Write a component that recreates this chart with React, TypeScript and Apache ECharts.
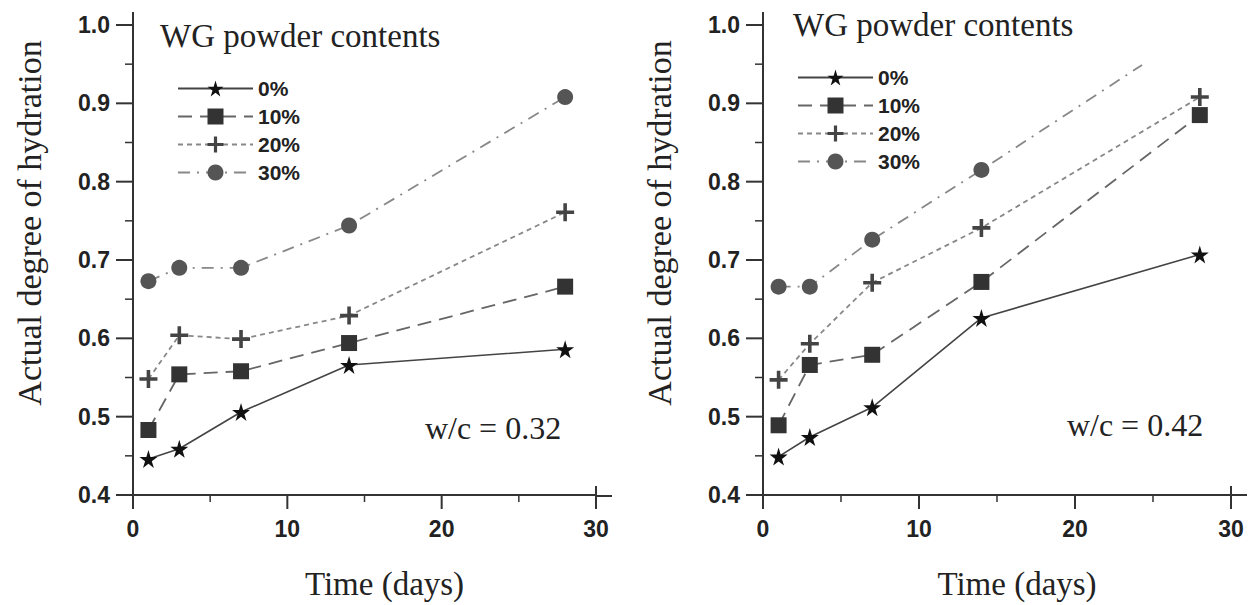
import React, { useEffect, useRef } from "react";
import * as echarts from "echarts";

const days = [1, 3, 7, 14, 28];
const seriesNames = ["0%", "10%", "20%", "30%"];

// w/c = 0.32
const left0 = [0.446, 0.459, 0.506, 0.566, 0.586];
const left10 = [0.483, 0.554, 0.558, 0.594, 0.666];
const left20 = [0.548, 0.604, 0.599, 0.629, 0.761];
const left30 = [0.673, 0.69, 0.69, 0.744, 0.908];

// w/c = 0.42
const right0 = [0.449, 0.474, 0.512, 0.626, 0.707];
const right10 = [0.489, 0.566, 0.579, 0.672, 0.885];
const right20 = [0.547, 0.593, 0.671, 0.741, 0.908];
const right30 = [0.666, 0.666, 0.726, 0.815];
// the 30% line of the right panel runs on past its last marker and stops here
const right30LineEnd = [24.3, 0.949];

const xTicks = [0, 10, 20, 30];
const xMinorTicks = [5, 15, 25];
const yTicks = [0.4, 0.5, 0.6, 0.7, 0.8, 0.9, 1.0];
const yMinorTicks = [0.45, 0.55, 0.65, 0.75, 0.85, 0.95];

const STAR =
  "path://M50,0 L61,35 L98,35 L68,57 L79,91 L50,70 L21,91 L32,57 L2,35 L39,35 Z";
const PLUS = "path://M4,0 H6 V4 H10 V6 H6 V10 H4 V6 H0 V4 H4 Z";

const styles = [
  { symbol: STAR, size: 18, color: "#111", line: "#444", type: "solid" as any, width: 1.6 },
  { symbol: "rect", size: 16, color: "#333", line: "#666", type: [14, 8], width: 1.8 },
  { symbol: PLUS, size: 18, color: "#444", line: "#888", type: [5, 4], width: 1.8 },
  { symbol: "circle", size: 16, color: "#555", line: "#888", type: [12, 7, 2, 7], width: 1.8 },
];

const serif = "Liberation Serif";
const tickFont = { fontFamily: "Liberation Sans", fontWeight: "bold" as any, fontSize: 23, color: "#222" };

function makeX(gridIndex: number) {
  return {
    type: "value",
    gridIndex,
    min: xTicks[0],
    max: xTicks[xTicks.length - 1],
    interval: 10,
    name: "Time (days)",
    nameLocation: "middle",
    nameGap: 72,
    nameTextStyle: { fontFamily: serif, fontSize: 33, color: "#222", padding: [0, 0, 0, 40] },
    axisLine: { show: true, onZero: false, lineStyle: { color: "#333", width: 2 } },
    axisTick: { show: false },
    splitLine: { show: false },
    axisLabel: { ...tickFont, margin: 22, formatter: (v: number) => String(v) },
  };
}

function makeY(gridIndex: number) {
  return {
    type: "value",
    gridIndex,
    min: yTicks[0],
    max: yTicks[yTicks.length - 1],
    interval: 0.1,
    axisLine: { show: true, onZero: false, lineStyle: { color: "#333", width: 2 } },
    axisTick: { show: false },
    splitLine: { show: false },
    axisLabel: { ...tickFont, margin: 23, formatter: (v: number) => v.toFixed(1) },
  };
}

function mkSeries(name: string, idx: number, gridIndex: number, vals: number[], extra?: number[]) {
  const s = styles[idx];
  const data: any[] = vals.map((v, i) => [days[i], v]);
  if (extra) data.push({ value: extra, symbol: "none" });
  return {
    type: "line",
    name,
    xAxisIndex: gridIndex,
    yAxisIndex: gridIndex,
    data,
    symbol: s.symbol,
    symbolSize: s.size,
    showAllSymbol: true,
    itemStyle: { color: s.color, opacity: 1 },
    lineStyle: { color: s.line, type: s.type, width: s.width },
    z: 2 + idx,
  };
}

export default function App() {
  const ref = useRef<HTMLDivElement>(null);
  useEffect(() => {
    if (!ref.current) return;
    const chart = echarts.init(ref.current, undefined, { renderer: "svg" });
    const legendBase = {
      orient: "vertical",
      data: seriesNames,
      itemWidth: 75,
      itemHeight: 20,
      itemGap: 7,
      selectedMode: false,
      textStyle: { fontFamily: "Liberation Sans", fontWeight: "bold", fontSize: 21, color: "#222" },
    };
    const axisExt = { stroke: "#333", lineWidth: 2 };
    const staticGraphics: any[] = [
      { type: "line", shape: { x1: 596, y1: 496, x2: 612, y2: 496 }, style: axisExt },
      { type: "line", shape: { x1: 133, y1: 25, x2: 133, y2: 12 }, style: axisExt },
      { type: "line", shape: { x1: 1231, y1: 495, x2: 1247, y2: 495 }, style: axisExt },
      { type: "line", shape: { x1: 763, y1: 25, x2: 763, y2: 12 }, style: axisExt },
      { type: "text", left: 160, top: 19, style: { text: "WG powder contents", fontFamily: serif, fontSize: 33, fill: "#222" } },
      { type: "text", left: 793, top: 8, style: { text: "WG powder contents", fontFamily: serif, fontSize: 33, fill: "#222" } },
      { type: "text", x: 493, y: 428, style: { text: "w/c = 0.32", fontFamily: serif, fontSize: 32, fill: "#222", align: "center", verticalAlign: "middle" } },
      { type: "text", x: 1135, y: 425, style: { text: "w/c = 0.42", fontFamily: serif, fontSize: 32, fill: "#222", align: "center", verticalAlign: "middle" } },
      { type: "text", x: 29, y: 223, rotation: Math.PI / 2, style: { text: "Actual degree of hydration", fontFamily: serif, fontSize: 34, fill: "#222", align: "center", verticalAlign: "middle" } },
      { type: "text", x: 659, y: 223, rotation: Math.PI / 2, style: { text: "Actual degree of hydration", fontFamily: serif, fontSize: 34, fill: "#222", align: "center", verticalAlign: "middle" } },
    ];
    chart.setOption({
      animation: false,
      backgroundColor: "#fff",
      grid: [
        { left: 133, top: 25, width: 463, height: 471 },
        { left: 763, top: 25, width: 468, height: 470 },
      ],
      xAxis: [makeX(0), makeX(1)],
      yAxis: [makeY(0), makeY(1)],
      legend: [
        { ...legendBase, left: 172, top: 73 },
        { ...legendBase, left: 792, top: 62 },
      ],
      graphic: staticGraphics,
      series: [
        mkSeries("0%", 0, 0, left0),
        mkSeries("10%", 1, 0, left10),
        mkSeries("20%", 2, 0, left20),
        mkSeries("30%", 3, 0, left30),
        mkSeries("0%", 0, 1, right0),
        mkSeries("10%", 1, 1, right10),
        mkSeries("20%", 2, 1, right20),
        mkSeries("30%", 3, 1, right30, right30LineEnd),
      ],
    });

    // tick marks, placed through the axes' own scales
    const tickStyle = { stroke: "#333", lineWidth: 2 };
    const minorStyle = { stroke: "#333", lineWidth: 1.5 };
    const ticks: any[] = [];
    [0, 1].forEach((g) => {
      const finder = { xAxisIndex: g, yAxisIndex: g };
      const yBase = yTicks[0];
      const xBase = xTicks[0];
      xTicks.forEach((v, i) => {
        const p = chart.convertToPixel(finder as any, [v, yBase]) as number[];
        const up = i === xTicks.length - 1 ? 9 : 0;
        ticks.push({ type: "line", z: 100, shape: { x1: p[0], y1: p[1] - up, x2: p[0], y2: p[1] + 14 }, style: tickStyle });
      });
      xMinorTicks.forEach((v) => {
        const p = chart.convertToPixel(finder as any, [v, yBase]) as number[];
        ticks.push({ type: "line", z: 100, shape: { x1: p[0], y1: p[1], x2: p[0], y2: p[1] + 7 }, style: minorStyle });
      });
      yTicks.forEach((v) => {
        const p = chart.convertToPixel(finder as any, [xBase, v]) as number[];
        ticks.push({ type: "line", z: 100, shape: { x1: p[0] - 17, y1: p[1], x2: p[0], y2: p[1] }, style: tickStyle });
      });
      yMinorTicks.forEach((v) => {
        const p = chart.convertToPixel(finder as any, [xBase, v]) as number[];
        ticks.push({ type: "line", z: 100, shape: { x1: p[0] - 8, y1: p[1], x2: p[0], y2: p[1] }, style: minorStyle });
      });
    });
    chart.setOption({ graphic: staticGraphics.concat(ticks) });

    return () => chart.dispose();
  }, []);
  return (
    <div
      ref={ref}
      style={{ position: "absolute", left: 0, top: 0, width: 1256, height: 605 }}
    />
  );
}
